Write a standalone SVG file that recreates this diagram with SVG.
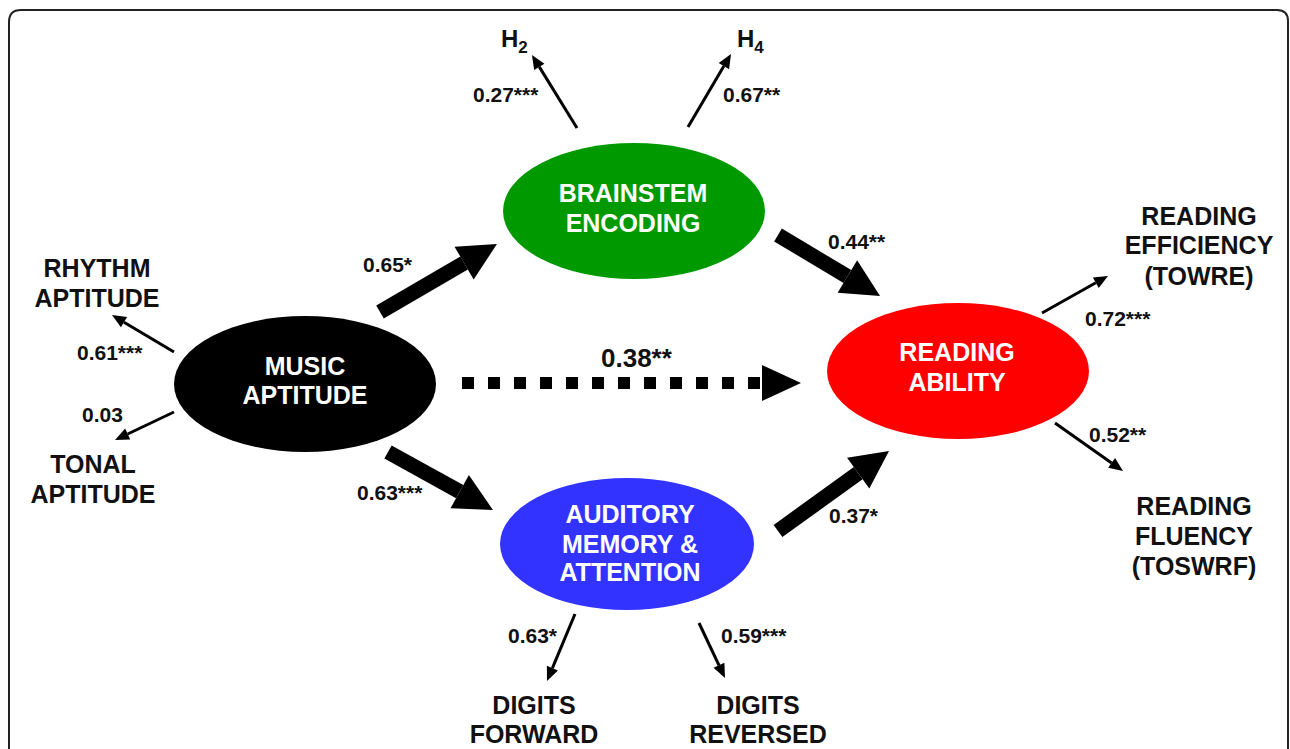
<svg xmlns="http://www.w3.org/2000/svg" width="1290" height="749" viewBox="0 0 1290 749">
<defs>
<style>
.lbl{font-family:"Liberation Sans",Arial,sans-serif;font-weight:bold;font-size:25px;fill:#111;text-anchor:middle}
.nd{font-family:"Liberation Sans",Arial,sans-serif;font-weight:bold;font-size:25px;fill:#fff;text-anchor:middle}
.cf{font-family:"Liberation Sans",Arial,sans-serif;font-weight:bold;font-size:21px;fill:#111}
.thick{stroke:#000;stroke-width:15;fill:none;marker-end:url(#hbig)}
.thin{stroke:#000;stroke-width:3;fill:none;marker-end:url(#hsmall)}
</style>
<marker id="hbig" markerUnits="userSpaceOnUse" markerWidth="40" markerHeight="40" refX="0" refY="0" orient="auto" overflow="visible"><path d="M0,-19 L38,0 L0,19 z" fill="#000"/></marker>
<marker id="hsmall" markerUnits="userSpaceOnUse" markerWidth="16" markerHeight="16" refX="0" refY="0" orient="auto" overflow="visible"><path d="M0,-6 L14,0 L0,6 z" fill="#000"/></marker>
</defs>
<rect width="1290" height="749" fill="#fff"/>
<path d="M9,749 V22 Q9,10 21,10 H1277 Q1288,10 1288,21 V749" fill="none" stroke="#222" stroke-width="2"/>

<g id="connectors">
<line class="thick" x1="380" y1="312" x2="464.1" y2="263.1"/>
<line class="thick" x1="388" y1="452" x2="459.7" y2="491.6"/>
<line class="thick" x1="778" y1="235" x2="847.4" y2="276.5"/>
<line class="thick" x1="778" y1="531" x2="858.2" y2="473.2"/>
<line x1="462" y1="383" x2="760" y2="383" stroke="#000" stroke-width="12" stroke-dasharray="12 14"/>
<polygon points="762,365 801,383 762,401" fill="#000"/>
<line class="thin" x1="174" y1="352" x2="124" y2="322.2"/>
<line class="thin" x1="174" y1="412" x2="127.7" y2="434"/>
<line class="thin" x1="577" y1="128" x2="539.3" y2="66.9"/>
<line class="thin" x1="688" y1="127" x2="723.9" y2="66.1"/>
<line class="thin" x1="1042" y1="313" x2="1095.8" y2="282.8"/>
<line class="thin" x1="1055" y1="423" x2="1111.6" y2="462.9"/>
<line class="thin" x1="575" y1="614" x2="552.4" y2="668.1"/>
<line class="thin" x1="699" y1="623" x2="719" y2="665.3"/>
</g>

<g id="music">
<ellipse cx="305" cy="384" rx="131" ry="68" fill="#000"/>
<text class="nd" x="305" y="375">MUSIC</text>
<text class="nd" x="305" y="404">APTITUDE</text>
</g>
<g id="brainstem">
<ellipse cx="634" cy="211" rx="131" ry="68" fill="#009900"/>
<text class="nd" x="633" y="202">BRAINSTEM</text>
<text class="nd" x="633" y="232">ENCODING</text>
</g>
<g id="reading">
<ellipse cx="958" cy="371" rx="131" ry="68" fill="#ff0000"/>
<text class="nd" x="957" y="361">READING</text>
<text class="nd" x="957" y="391">ABILITY</text>
</g>
<g id="auditory">
<ellipse cx="627" cy="544" rx="127" ry="66" fill="#3333ff"/>
<text class="nd" x="630" y="523">AUDITORY</text>
<text class="nd" x="630" y="553">MEMORY &amp;</text>
<text class="nd" x="630" y="581">ATTENTION</text>
</g>

<g id="rhythm"><text class="lbl" x="97" y="277">RHYTHM</text><text class="lbl" x="97" y="307">APTITUDE</text></g>
<g id="tonal"><text class="lbl" x="93" y="473">TONAL</text><text class="lbl" x="93" y="503">APTITUDE</text></g>
<g id="h2"><text class="lbl" x="501" y="47" style="text-anchor:start;font-size:24px">H<tspan font-size="17" dy="6">2</tspan></text></g>
<g id="h4"><text class="lbl" x="737" y="47" style="text-anchor:start;font-size:24px">H<tspan font-size="17" dy="6">4</tspan></text></g>
<g id="efficiency"><text class="lbl" x="1199" y="225">READING</text><text class="lbl" x="1199" y="254">EFFICIENCY</text><text class="lbl" x="1199" y="285">(TOWRE)</text></g>
<g id="fluency"><text class="lbl" x="1194" y="515">READING</text><text class="lbl" x="1194" y="545">FLUENCY</text><text class="lbl" x="1194" y="575">(TOSWRF)</text></g>
<g id="forward"><text class="lbl" x="534" y="714">DIGITS</text><text class="lbl" x="534" y="743">FORWARD</text></g>
<g id="reversed"><text class="lbl" x="758" y="714">DIGITS</text><text class="lbl" x="758" y="743">REVERSED</text></g>

<g id="coefficients">
<text class="cf" x="473" y="102">0.27***</text>
<text class="cf" x="723" y="102">0.67**</text>
<text class="cf" x="828" y="249">0.44**</text>
<text class="cf" x="363" y="272">0.65*</text>
<text class="cf" x="77" y="360">0.61***</text>
<text class="cf" x="82" y="422">0.03</text>
<text class="cf" x="357" y="500">0.63***</text>
<text class="cf" x="601" y="367" style="font-size:26px">0.38**</text>
<text class="cf" x="1085" y="326">0.72***</text>
<text class="cf" x="1089" y="442">0.52**</text>
<text class="cf" x="829" y="523">0.37*</text>
<text class="cf" x="508" y="643">0.63*</text>
<text class="cf" x="721" y="643">0.59***</text>
</g>
</svg>
